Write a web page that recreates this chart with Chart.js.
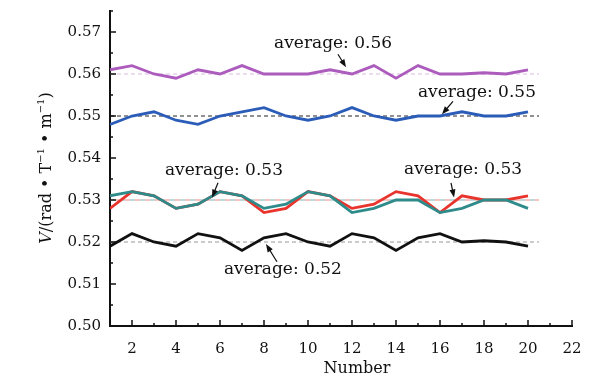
<!DOCTYPE html>
<html>
<head>
<meta charset="utf-8">
<script src="https://cdn.jsdelivr.net/npm/chart.js@4.4.1/dist/chart.umd.min.js"></script>
<style>
html, body { margin: 0; padding: 0; background: #fff; }
</style>
</head>
<body>
<canvas id="grafica" width="613" height="382"></canvas>
<script>
// Datos
var numeros = [1, 2, 3, 4, 5, 6, 7, 8, 9, 10, 11, 12, 13, 14, 15, 16, 17, 18, 19, 20];
var serieMorada = [0.561, 0.562, 0.560, 0.559, 0.561, 0.560, 0.562, 0.560, 0.560, 0.560, 0.561, 0.560, 0.562, 0.559, 0.562, 0.560, 0.560, 0.5603, 0.560, 0.561];
var serieAzul = [0.548, 0.550, 0.551, 0.549, 0.548, 0.550, 0.551, 0.552, 0.550, 0.549, 0.550, 0.552, 0.550, 0.549, 0.550, 0.550, 0.551, 0.550, 0.550, 0.551];
var serieVerde = [0.531, 0.532, 0.531, 0.528, 0.529, 0.532, 0.531, 0.528, 0.529, 0.532, 0.531, 0.527, 0.528, 0.530, 0.530, 0.527, 0.528, 0.530, 0.530, 0.528];
var serieRoja = [0.528, 0.532, 0.531, 0.528, 0.529, 0.532, 0.531, 0.527, 0.528, 0.532, 0.531, 0.528, 0.529, 0.532, 0.531, 0.527, 0.531, 0.530, 0.530, 0.531];
var serieNegra = [0.519, 0.522, 0.520, 0.519, 0.522, 0.521, 0.518, 0.521, 0.522, 0.520, 0.519, 0.522, 0.521, 0.518, 0.521, 0.522, 0.520, 0.5203, 0.520, 0.519];
var promedios = [0.56, 0.55, 0.53, 0.53, 0.52];
var finPromedio = 20.5;
var ticksX = [2, 4, 6, 8, 10, 12, 14, 16, 18, 20, 22];
var ticksY = [0.50, 0.51, 0.52, 0.53, 0.54, 0.55, 0.56, 0.57];

// Etiquetas "average" (posicion del texto y de la flecha en unidades de datos)
var etiquetas = [
    { valor: promedios[0], texto: [11.14, 0.5673], desde: [11.36, 0.5647], hasta: [11.73, 0.5616] },
    { valor: promedios[1], texto: [17.68, 0.5556], desde: [16.59, 0.5535], hasta: [16.09, 0.5504] },
    { valor: promedios[2], texto: [6.18, 0.5370], desde: [5.91, 0.5341], hasta: [5.64, 0.5306] },
    { valor: promedios[3], texto: [17.05, 0.5372], desde: [16.5, 0.5341], hasta: [16.64, 0.5306] },
    { valor: promedios[4], texto: [8.86, 0.5134], desde: [8.59, 0.5153], hasta: [8.09, 0.5195] }
];

var fuente = '"DejaVu Serif", "Liberation Serif", serif';

function puntos(valores) {
    return numeros.map(function(n, i) { return { x: n, y: valores[i] }; });
}

function linea(valor) {
    return [{ x: numeros[0], y: valor }, { x: finPromedio, y: valor }];
}

var decoracion = {
    id: 'decoracion',
    afterDraw: function(chart) {
        var ctx = chart.ctx;
        var xs = chart.scales.x, ys = chart.scales.y;
        var area = chart.chartArea;
        ctx.save();

        // marcas hacia dentro
        ctx.strokeStyle = '#111';
        ctx.lineWidth = 1.5;
        ctx.beginPath();
        for (var v = 2; v <= 22; v++) {
            var px = xs.getPixelForValue(v);
            var l = (v % 2 === 0) ? 6 : 3;
            ctx.moveTo(px, area.bottom);
            ctx.lineTo(px, area.bottom - l);
        }
        for (var k = 1; k <= 15; k++) {
            var val = 0.50 + k * 0.005;
            var py = ys.getPixelForValue(val);
            var ly = (k % 2 === 0) ? 6 : 3;
            ctx.moveTo(area.left, py);
            ctx.lineTo(area.left + ly, py);
        }
        ctx.stroke();

        // textos y flechas
        ctx.fillStyle = '#111';
        ctx.font = '17px ' + fuente;
        ctx.textAlign = 'center';
        ctx.textBaseline = 'middle';
        etiquetas.forEach(function(e) {
            ctx.fillText('average: ' + e.valor.toFixed(2), xs.getPixelForValue(e.texto[0]), ys.getPixelForValue(e.texto[1]));
            var x1 = xs.getPixelForValue(e.desde[0]), y1 = ys.getPixelForValue(e.desde[1]);
            var x2 = xs.getPixelForValue(e.hasta[0]), y2 = ys.getPixelForValue(e.hasta[1]);
            var ang = Math.atan2(y2 - y1, x2 - x1);
            ctx.lineWidth = 1.2;
            ctx.beginPath();
            ctx.moveTo(x1, y1);
            ctx.lineTo(x2 - 5 * Math.cos(ang), y2 - 5 * Math.sin(ang));
            ctx.stroke();
            ctx.beginPath();
            ctx.moveTo(x2, y2);
            ctx.lineTo(x2 - 8 * Math.cos(ang) + 3 * Math.sin(ang), y2 - 8 * Math.sin(ang) - 3 * Math.cos(ang));
            ctx.lineTo(x2 - 8 * Math.cos(ang) - 3 * Math.sin(ang), y2 - 8 * Math.sin(ang) + 3 * Math.cos(ang));
            ctx.closePath();
            ctx.fill();
        });

        // titulo del eje x
        ctx.font = '16px ' + fuente;
        ctx.fillText('Number', 357, 369);

        // titulo del eje y: V/(rad • T^-1 • m^-1)
        var partes = [
            { t: 'V', f: 'italic 16px ' + fuente, dy: 0 },
            { t: '/(rad • T', f: '16px ' + fuente, dy: 0 },
            { t: '−1', f: '10px ' + fuente, dy: -6 },
            { t: ' • m', f: '16px ' + fuente, dy: 0 },
            { t: '−1', f: '10px ' + fuente, dy: -6 },
            { t: ')', f: '16px ' + fuente, dy: 0 }
        ];
        var ancho = 0;
        partes.forEach(function(p) { ctx.font = p.f; ancho += ctx.measureText(p.t).width; });
        ctx.translate(47, 168);
        ctx.rotate(-Math.PI / 2);
        ctx.textAlign = 'left';
        ctx.textBaseline = 'middle';
        var cx = -ancho / 2;
        partes.forEach(function(p) {
            ctx.font = p.f;
            ctx.fillText(p.t, cx, p.dy);
            cx += ctx.measureText(p.t).width;
        });
        ctx.restore();
    }
};

var ctx = document.getElementById('grafica').getContext('2d');

var grafica = new Chart(ctx, {
    type: 'line',
    data: {
        datasets: [
            { data: puntos(serieMorada), borderColor: '#ac5cbc', borderWidth: 2.8, order: 1 },
            { data: puntos(serieAzul), borderColor: '#2b5db8', borderWidth: 2.8, order: 1 },
            { data: puntos(serieVerde), borderColor: '#2e8b8a', borderWidth: 2.8, order: 1 },
            { data: puntos(serieRoja), borderColor: '#e8342c', borderWidth: 2.8, order: 2 },
            { data: puntos(serieNegra), borderColor: '#111111', borderWidth: 2.8, order: 1 },
            { data: linea(promedios[0]), borderColor: '#dcb8e2', borderWidth: 1, borderDash: [4, 3], order: 5 },
            { data: linea(promedios[1]), borderColor: '#222222', borderWidth: 1, borderDash: [4, 3], order: 5 },
            { data: linea(promedios[2]), borderColor: '#7fb3b3', borderWidth: 1, borderDash: [5, 5], order: 5 },
            { data: linea(promedios[3]), borderColor: '#f08a84', borderWidth: 1, borderDash: [5, 5], borderDashOffset: 5, order: 5 },
            { data: linea(promedios[4]), borderColor: '#999999', borderWidth: 1, borderDash: [4, 3], order: 5 }
        ]
    },
    options: {
        responsive: false,
        animation: false,
        layout: { padding: { top: 11, right: 41, left: 0, bottom: 0 } },
        elements: { point: { radius: 0 }, line: { tension: 0 } },
        plugins: { legend: { display: false }, tooltip: { enabled: false } },
        scales: {
            x: {
                type: 'linear',
                min: 1,
                max: 22,
                grid: { display: false },
                border: { display: true, color: '#111', width: 2 },
                afterBuildTicks: function(scale) {
                    scale.ticks = ticksX.map(function(v) { return { value: v }; });
                },
                afterFit: function(scale) { scale.height = 56; },
                ticks: { color: '#111', padding: 6, font: { family: fuente, size: 15 } }
            },
            y: {
                type: 'linear',
                min: 0.50,
                max: 0.575,
                grid: { display: false },
                border: { display: true, color: '#111', width: 2 },
                afterBuildTicks: function(scale) {
                    scale.ticks = ticksY.map(function(v) { return { value: v }; });
                },
                afterFit: function(scale) { scale.width = 110; },
                ticks: {
                    color: '#111',
                    padding: 1,
                    font: { family: fuente, size: 15 },
                    callback: function(v) { return v.toFixed(2); }
                }
            }
        }
    },
    plugins: [decoracion]
});
</script>
</body>
</html>
